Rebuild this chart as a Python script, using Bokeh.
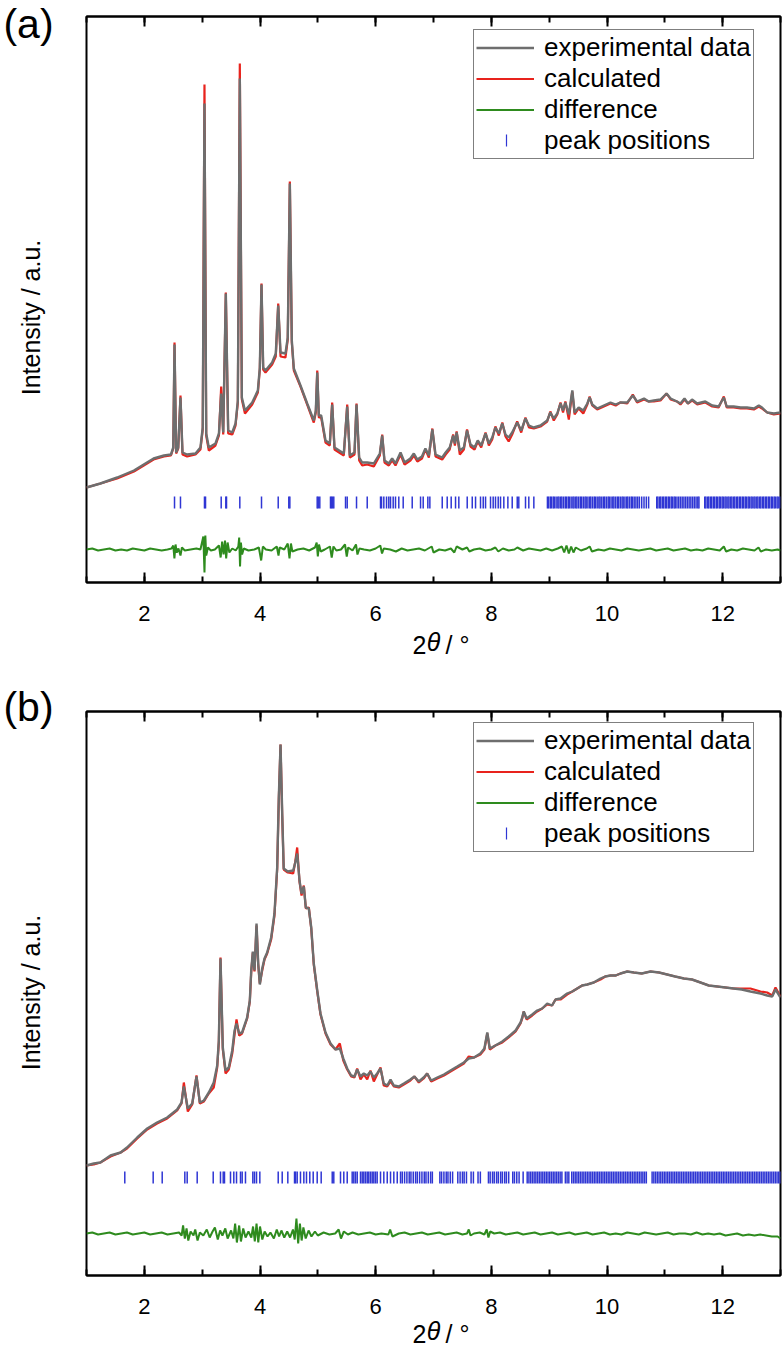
import math
from bokeh.plotting import figure
from bokeh.models import (LinearAxis, SingleIntervalTicker, FixedTicker, Legend,
                          LegendItem, Label, Range1d, CustomJSTickFormatter)
from bokeh.layouts import column
from bokeh.embed import file_html
from bokeh.resources import INLINE

FONT = "Liberation Sans"
GRAY = "#6e6e6e"
RED = "#e8231d"
GREEN = "#2e8b1e"
BLUE = "#2f36d4"

# ---------------- panel (a) ----------------
a_theta = [1.00, 1.24, 1.53, 1.82, 1.99, 2.16, 2.34, 2.46, 2.50, 2.522,
           2.55, 2.586, 2.625, 2.66, 2.74, 2.885, 2.97, 3.01, 3.04, 3.07,
           3.115, 3.23, 3.29, 3.329, 3.364, 3.409, 3.45, 3.52, 3.577, 3.617,
           3.651, 3.686, 3.74, 3.865, 3.963, 3.997, 4.026, 4.055, 4.095, 4.21,
           4.273, 4.315, 4.355, 4.44, 4.48, 4.516, 4.55, 4.585, 4.70, 4.816,
           4.93, 4.965, 4.99, 5.017, 5.058, 5.133, 5.207, 5.248, 5.288, 5.449,
           5.508, 5.553, 5.634, 5.669, 5.715, 5.767, 5.854, 5.968, 6.072, 6.113,
           6.153, 6.228, 6.285, 6.343, 6.43, 6.50, 6.60, 6.66, 6.72, 6.80,
           6.86, 6.92, 6.98, 7.035, 7.15, 7.21, 7.28, 7.34, 7.37, 7.40,
           7.455, 7.525, 7.58, 7.64, 7.71, 7.765, 7.825, 7.90, 7.957, 8.015,
           8.07, 8.13, 8.19, 8.245, 8.30, 8.36, 8.447, 8.517, 8.59, 8.65,
           8.735, 8.85, 8.966, 9.02, 9.08, 9.14, 9.196, 9.24, 9.28, 9.34,
           9.40, 9.44, 9.51, 9.59, 9.66, 9.70, 9.745, 9.83, 9.945, 10.06,
           10.15, 10.23, 10.35, 10.446, 10.52, 10.64, 10.72, 10.81, 10.925, 11.03,
           11.10, 11.21, 11.27, 11.34, 11.40, 11.47, 11.56, 11.70, 11.82, 11.93,
           12.02, 12.07, 12.19, 12.31, 12.42, 12.54, 12.625, 12.68, 12.77, 12.885, 13.00]
a_exp = [95, 99, 105, 112, 118, 124, 127, 128, 135, 238,
         130, 135, 185, 130, 128, 129, 135, 155, 479, 149,
         135, 139, 149, 189, 150, 289, 152, 150, 159, 182,
         504, 185, 172, 180, 192, 215, 298, 215, 212, 220,
         229, 277, 230, 229, 245, 399, 242, 214, 197, 179,
         162, 172, 210, 167, 167, 142, 139, 178, 135, 129,
         176, 127, 130, 178, 125, 120, 120, 119, 129, 147,
         122, 119, 124, 119, 130, 120, 124, 129, 123, 126,
         134, 127, 153, 128, 125, 130, 135, 147, 139, 150,
         132, 135, 152, 138, 135, 142, 137, 149, 139, 145,
         155, 149, 159, 148, 145, 150, 160, 152, 164, 157,
         155, 157, 162, 170, 164, 169, 179, 172, 180, 168,
         192, 170, 175, 172, 179, 185, 178, 174, 177, 180,
         178, 180, 180, 187, 181, 184, 181, 182, 183, 189,
         184, 181, 179, 184, 179, 183, 179, 181, 177, 176,
         185, 176, 176, 175, 175, 174, 177, 175, 170, 169, 170]
a_calc = [95, 99, 104, 111, 117, 123, 126, 127, 134, 240,
          129, 134, 187, 128, 126, 128, 133, 153, 498, 147,
          132, 137, 147, 196, 148, 290, 149, 148, 157, 180,
          519, 183, 169, 178, 190, 213, 299, 213, 210, 218,
          226, 279, 226, 225, 243, 401, 240, 212, 196, 178,
          160, 170, 212, 165, 165, 140, 137, 180, 133, 127,
          178, 125, 128, 179, 122, 117, 118, 116, 127, 148,
          120, 117, 122, 117, 128, 118, 122, 127, 121, 124,
          133, 125, 154, 126, 123, 128, 133, 148, 137, 151,
          128, 133, 153, 136, 133, 141, 135, 150, 137, 143,
          156, 147, 160, 146, 141, 148, 161, 150, 165, 155,
          154, 156, 161, 171, 162, 168, 180, 170, 181, 163,
          191, 168, 174, 169, 178, 186, 177, 173, 176, 179,
          177, 180, 179, 188, 180, 183, 181, 181, 182, 189,
          183, 181, 178, 183, 179, 182, 178, 180, 176, 175,
          186, 175, 175, 174, 174, 173, 176, 174, 170, 168, 169]
a_dtheta = [1.00, 1.10, 1.20, 1.30, 1.40, 1.50, 1.60, 1.70, 1.80, 1.90,
            2.00, 2.10, 2.20, 2.30, 2.40, 2.47, 2.50, 2.52, 2.54, 2.56,
            2.59, 2.625, 2.65, 2.70, 2.80, 2.90, 2.97, 3.02, 3.04, 3.055,
            3.07, 3.10, 3.15, 3.22, 3.29, 3.32, 3.345, 3.37, 3.395, 3.415,
            3.44, 3.47, 3.52, 3.58, 3.625, 3.64, 3.655, 3.67, 3.69, 3.72,
            3.80, 3.90, 3.98, 4.02, 4.05, 4.10, 4.20, 4.29, 4.32, 4.34,
            4.42, 4.48, 4.51, 4.535, 4.56, 4.65, 4.75, 4.85, 4.95, 4.98,
            5.00, 5.02, 5.05, 5.12, 5.21, 5.24, 5.27, 5.32, 5.40, 5.47,
            5.50, 5.525, 5.60, 5.66, 5.685, 5.72, 5.80, 5.90, 6.00, 6.08,
            6.11, 6.14, 6.25, 6.35, 6.45, 6.55, 6.65, 6.75, 6.85, 6.97,
            7.00, 7.10, 7.20, 7.30, 7.36, 7.40, 7.50, 7.58, 7.62, 7.70,
            7.80, 7.90, 8.00, 8.07, 8.12, 8.20, 8.30, 8.40, 8.45, 8.55,
            8.65, 8.75, 8.85, 8.95, 9.05, 9.15, 9.22, 9.26, 9.30, 9.34,
            9.38, 9.42, 9.46, 9.55, 9.65, 9.70, 9.74, 9.85, 9.95, 10.05,
            10.15, 10.25, 10.35, 10.45, 10.55, 10.65, 10.75, 10.85, 10.95, 11.05,
            11.15, 11.25, 11.35, 11.45, 11.55, 11.65, 11.75, 11.85, 11.95, 12.02,
            12.06, 12.15, 12.25, 12.35, 12.45, 12.55, 12.62, 12.66, 12.75, 12.85,
            12.95, 13.00]
a_diff = [33, 34, 32, 33, 34, 32, 33, 32, 34, 33,
          32, 34, 33, 32, 33, 34, 37, 24, 38, 30,
          34, 27, 35, 32, 33, 34, 33, 46, 10, 47,
          27, 35, 32, 33, 37, 25, 41, 28, 42, 24,
          40, 30, 34, 32, 36, 45, 16, 40, 28, 34,
          32, 33, 35, 22, 36, 33, 32, 36, 27, 35,
          33, 39, 24, 39, 31, 33, 34, 32, 35, 40,
          26, 38, 31, 33, 36, 25, 36, 32, 33, 38,
          26, 35, 32, 38, 28, 34, 33, 32, 34, 37,
          29, 34, 33, 31, 34, 32, 33, 34, 32, 36,
          30, 33, 32, 34, 30, 36, 33, 35, 31, 33,
          34, 32, 33, 35, 31, 34, 32, 33, 35, 32,
          34, 33, 32, 34, 32, 34, 36, 30, 37, 29,
          36, 30, 35, 32, 34, 36, 31, 33, 32, 34,
          33, 32, 34, 33, 32, 33, 34, 32, 33, 34,
          32, 33, 34, 32, 33, 32, 34, 33, 32, 36,
          31, 33, 32, 34, 33, 32, 35, 31, 33, 32,
          33, 32]
a_peaks = [2.522, 2.625, 3.040, 3.058, 3.329, 3.409, 3.421, 3.651, 4.026, 4.315,
           4.498, 4.516, 4.989, 5.007, 5.034, 5.219, 5.236, 5.254, 5.276, 5.479,
           5.508, 5.669, 5.854, 6.084, 6.101, 6.141, 6.188, 6.227, 6.257, 6.303,
           6.343, 6.400, 6.476, 6.632, 6.776, 6.822, 6.902, 6.937, 7.151, 7.237,
           7.306, 7.381, 7.438, 7.583, 7.670, 7.727, 7.813, 7.860, 7.900, 7.986,
           8.032, 8.072, 8.119, 8.159, 8.216, 8.286, 8.361, 8.448, 8.475, 8.591,
           8.648, 8.735,
           8.97, 8.99, 9.02, 9.04, 9.07, 9.09, 9.12, 9.15, 9.17, 9.20,
           9.22, 9.25, 9.28, 9.30, 9.33, 9.35, 9.38, 9.41, 9.43, 9.46,
           9.48, 9.51, 9.54, 9.56, 9.59, 9.62, 9.64, 9.67, 9.70, 9.72,
           9.75, 9.78, 9.80, 9.83, 9.86, 9.88, 9.91, 9.94, 9.96, 9.99,
           10.02, 10.04, 10.07, 10.10, 10.12, 10.15, 10.18, 10.20, 10.23, 10.26,
           10.28, 10.31, 10.34, 10.36, 10.39, 10.42, 10.44, 10.47, 10.50, 10.53,
           10.56, 10.60, 10.64, 10.68, 10.72,
           10.86, 10.88, 10.91, 10.93, 10.96, 10.98, 11.01, 11.03, 11.06, 11.08,
           11.11, 11.13, 11.16, 11.18, 11.21, 11.24, 11.27, 11.30, 11.33, 11.36,
           11.39, 11.42, 11.45, 11.48, 11.51, 11.54, 11.57, 11.59,
           11.69, 11.71, 11.74, 11.76, 11.79, 11.81, 11.84, 11.86, 11.89, 11.91,
           11.94, 11.96, 11.99, 12.01, 12.04, 12.06, 12.09, 12.11, 12.14, 12.16,
           12.19, 12.21, 12.24, 12.26, 12.29, 12.31, 12.34, 12.36, 12.39, 12.41,
           12.44, 12.46, 12.49, 12.51, 12.54, 12.56, 12.59, 12.61, 12.64, 12.66,
           12.69, 12.71, 12.74, 12.76, 12.79, 12.81, 12.84, 12.86, 12.89, 12.91,
           12.94, 12.96, 12.99]

# ---------------- panel (b) ----------------
b_theta = [1.00, 1.127, 1.24, 1.415, 1.59, 1.70, 1.877, 2.05, 2.22, 2.395,
           2.568, 2.643, 2.683, 2.752, 2.828, 2.902, 2.96, 3.03, 3.115, 3.20,
           3.26, 3.288, 3.317, 3.357, 3.404, 3.46, 3.52, 3.56, 3.594, 3.64,
           3.69, 3.778, 3.824, 3.848, 3.876, 3.905, 3.94, 3.969, 3.997, 4.038,
           4.078, 4.124, 4.193, 4.25, 4.297, 4.325, 4.355, 4.384, 4.41, 4.48,
           4.574, 4.61, 4.643, 4.683, 4.718, 4.758, 4.792, 4.844, 4.886, 4.93,
           4.99, 5.046, 5.133, 5.22, 5.305, 5.38, 5.44, 5.508, 5.577, 5.634,
           5.68, 5.738, 5.795, 5.854, 5.91, 5.968, 6.026, 6.084, 6.14, 6.20,
           6.257, 6.314, 6.40, 6.487, 6.60, 6.67, 6.746, 6.83, 6.89, 6.96,
           7.065, 7.18, 7.294, 7.41, 7.525, 7.61, 7.70, 7.81, 7.88, 7.93,
           7.974, 8.07, 8.19, 8.30, 8.42, 8.505, 8.534, 8.56, 8.61, 8.707,
           8.793, 8.88, 8.966, 9.05, 9.11, 9.196, 9.31, 9.40, 9.485, 9.57,
           9.658, 9.77, 9.888, 9.97, 10.06, 10.15, 10.234, 10.35, 10.464, 10.60,
           10.753, 10.90, 11.04, 11.18, 11.33, 11.47, 11.617, 11.76, 11.906, 12.05,
           12.19, 12.33, 12.48, 12.655, 12.77, 12.857, 12.914, 13.00]
b_exp = [110, 112, 113, 120, 123, 128, 138, 147, 153, 158,
         166, 173, 189, 167, 172, 199, 173, 175, 183, 193,
         210, 235, 317, 228, 205, 208, 225, 245, 252, 242,
         243, 258, 275, 305, 324, 305, 352, 312, 291, 307,
         317, 323, 338, 362, 408, 478, 531, 462, 407, 404,
         405, 413, 422, 395, 382, 389, 368, 367, 348, 312,
         285, 262, 243, 232, 226, 227, 217, 207, 200, 199,
         206, 199, 202, 200, 204, 198, 202, 207, 192, 190,
         196, 190, 189, 192, 196, 199, 194, 198, 202, 195,
         198, 201, 205, 209, 213, 217, 218, 222, 227, 243,
         227, 230, 234, 239, 245, 253, 258, 264, 257, 261,
         265, 267, 272, 270, 276, 277, 282, 284, 287, 290,
         291, 293, 297, 299, 300, 300, 302, 304, 303, 302,
         304, 303, 301, 299, 297, 296, 293, 290, 289, 288,
         287, 286, 284, 282, 280, 279, 286, 278]
b_calc = [110, 111, 113, 119, 123, 127, 137, 146, 152, 157,
          165, 172, 193, 164, 171, 200, 172, 174, 182, 188,
          208, 233, 318, 226, 202, 206, 222, 241, 256, 240,
          242, 257, 274, 303, 323, 304, 350, 311, 292, 305,
          316, 322, 336, 360, 406, 476, 531, 460, 406, 403,
          402, 414, 428, 394, 380, 390, 367, 368, 347, 311,
          284, 261, 242, 231, 226, 232, 215, 206, 199, 198,
          207, 196, 201, 196, 205, 194, 201, 208, 190, 189,
          194, 189, 188, 191, 195, 199, 193, 197, 202, 194,
          197, 200, 204, 208, 212, 219, 218, 221, 226, 242,
          226, 230, 233, 238, 244, 252, 257, 264, 256, 260,
          264, 267, 271, 270, 276, 276, 281, 284, 287, 290,
          291, 293, 296, 299, 300, 300, 302, 304, 303, 302,
          304, 303, 301, 299, 297, 296, 293, 290, 289, 288,
          287, 287, 287, 284, 283, 280, 288, 279]
b_dtheta = [1.00, 1.10, 1.20, 1.30, 1.40, 1.50, 1.60, 1.70, 1.80, 1.90,
            2.00, 2.10, 2.20, 2.30, 2.40, 2.50, 2.60, 2.645, 2.67, 2.70,
            2.73, 2.76, 2.80, 2.85, 2.88, 2.92, 2.96, 3.02, 3.08, 3.13,
            3.18, 3.22, 3.27, 3.31, 3.35, 3.40, 3.44, 3.50, 3.54, 3.57,
            3.60, 3.64, 3.67, 3.71, 3.75, 3.80, 3.85, 3.88, 3.91, 3.94,
            3.97, 4.00, 4.04, 4.08, 4.13, 4.18, 4.24, 4.29, 4.33, 4.37,
            4.42, 4.47, 4.52, 4.57, 4.60, 4.63, 4.66, 4.69, 4.72, 4.75,
            4.79, 4.84, 4.89, 4.95, 5.00, 5.10, 5.20, 5.30, 5.36, 5.40,
            5.45, 5.52, 5.60, 5.70, 5.80, 5.90, 6.00, 6.10, 6.22, 6.25,
            6.29, 6.40, 6.50, 6.60, 6.70, 6.80, 6.90, 7.00, 7.10, 7.20,
            7.30, 7.40, 7.50, 7.58, 7.61, 7.64, 7.70, 7.80, 7.88, 7.92,
            7.95, 7.98, 8.05, 8.15, 8.25, 8.35, 8.45, 8.55, 8.65, 8.75,
            8.85, 8.95, 9.05, 9.15, 9.25, 9.35, 9.45, 9.55, 9.65, 9.75,
            9.85, 9.95, 10.05, 10.15, 10.25, 10.35, 10.45, 10.55, 10.65, 10.75,
            10.85, 10.95, 11.05, 11.15, 11.25, 11.35, 11.45, 11.55, 11.65, 11.75,
            11.85, 11.95, 12.05, 12.15, 12.25, 12.35, 12.45, 12.55, 12.65, 12.75,
            12.85, 12.95, 13.00]
b_diff = [42, 43, 41, 42, 43, 41, 42, 43, 41, 42,
          43, 41, 42, 43, 41, 42, 43, 40, 50, 37,
          47, 35, 44, 40, 46, 35, 43, 40, 46, 38,
          44, 48, 36, 45, 40, 47, 37, 45, 37, 52,
          33, 50, 34, 47, 38, 44, 38, 49, 34, 52,
          33, 49, 36, 44, 39, 43, 37, 46, 39, 45,
          38, 44, 38, 46, 36, 57, 32, 52, 35, 48,
          37, 45, 39, 44, 40, 43, 41, 42, 46, 37,
          44, 41, 43, 41, 42, 43, 41, 42, 41, 46,
          39, 42, 43, 41, 42, 43, 41, 42, 43, 41,
          42, 43, 41, 42, 46, 40, 42, 43, 41, 46,
          38, 44, 42, 43, 41, 42, 43, 41, 42, 43,
          41, 42, 43, 41, 42, 43, 41, 42, 43, 41,
          42, 43, 41, 42, 41, 43, 42, 41, 43, 42,
          41, 42, 43, 41, 42, 42, 41, 43, 41, 42,
          41, 42, 40, 41, 42, 40, 41, 40, 41, 40,
          39, 39, 37]
b_peaks = [1.662, 2.153, 2.309, 2.700, 2.741, 2.914, 3.191, 3.317, 3.364, 3.386,
           3.490, 3.547, 3.594, 3.663, 3.692, 3.749, 3.876, 3.905, 3.940, 3.997,
           4.315, 4.384, 4.481, 4.597, 4.614, 4.643, 4.700, 4.758, 4.804, 4.861,
           4.920, 4.989, 5.058, 5.249, 5.276, 5.392, 5.449, 5.508, 5.594, 5.622,
           5.651, 5.681, 5.738, 5.767, 5.795, 5.824, 5.854, 5.881, 5.911, 5.940,
           5.968, 5.997, 6.026, 6.084, 6.141, 6.200, 6.257, 6.314, 6.373, 6.430,
           6.46, 6.50, 6.54, 6.58, 6.61, 6.65, 6.69, 6.72, 6.76, 6.80,
           6.84, 6.87, 6.91, 6.95, 6.98, 7.11, 7.14, 7.18, 7.22, 7.25,
           7.29, 7.33, 7.42, 7.46, 7.50, 7.53, 7.57, 7.65, 7.69, 7.77,
           7.81, 7.95, 7.98, 8.02, 8.05, 8.09, 8.12, 8.16, 8.19, 8.23,
           8.26, 8.30, 8.37, 8.40, 8.44, 8.48, 8.55, 8.62, 8.65, 8.68,
           8.71, 8.74, 8.77, 8.80, 8.83, 8.86, 8.89, 8.92, 8.95, 8.98,
           9.01, 9.04, 9.07, 9.10, 9.13, 9.16, 9.19, 9.22, 9.28, 9.31,
           9.34, 9.39, 9.42, 9.45, 9.48, 9.51, 9.54, 9.57, 9.60, 9.63,
           9.66, 9.69, 9.72, 9.75, 9.78, 9.81, 9.84, 9.87, 9.90, 9.93,
           9.96, 9.99, 10.02, 10.05, 10.08, 10.11, 10.14, 10.17, 10.20, 10.23,
           10.26, 10.29, 10.32, 10.35, 10.38, 10.41, 10.44, 10.47, 10.50, 10.53,
           10.56, 10.59, 10.62, 10.65, 10.68, 10.78, 10.81, 10.84, 10.87, 10.90,
           10.93, 10.96, 10.99, 11.02, 11.05, 11.08, 11.11, 11.14, 11.17, 11.20,
           11.23, 11.26, 11.29, 11.32, 11.35, 11.38, 11.41, 11.44, 11.47, 11.50,
           11.53, 11.56, 11.59, 11.62, 11.65, 11.68, 11.71, 11.74, 11.77, 11.80,
           11.83, 11.86, 11.89, 11.92, 11.95, 11.98, 12.01, 12.04, 12.07, 12.10,
           12.13, 12.16, 12.19, 12.22, 12.25, 12.28, 12.31, 12.34, 12.37, 12.40,
           12.43, 12.46, 12.49, 12.52, 12.55, 12.58, 12.61, 12.64, 12.67, 12.70,
           12.73, 12.76, 12.79, 12.82, 12.85, 12.88, 12.91, 12.94, 12.97, 13.00]

# legend layout (frame pixels from the frame's bottom-left corner)
LEG_LEFT, LEG_BOTTOM = 387, 423
LEG_TICK_X, LEG_TICK_Y0, LEG_TICK_Y1 = 420, 436, 448
FRAME_W = 694
X0, X1 = 1, 13
# x-axis title "2θ / °": "2" and "/ °" sit beside the italic θ (axis title,
# centred on the frame); their anchor positions in frame pixels
XT_TWO_PX, XT_SLASH_PX = 333, 371


def px_to_x(px):
    return X0 + px * (X1 - X0) / FRAME_W


def make_panel(tag, theta, exp, calc, dtheta, diff, peaks, tick_mid, ymax,
               frame_h, top, bottom, tag_y, ylab_y, xt_standoff):
    p = figure(frame_width=FRAME_W, frame_height=frame_h,
               x_range=Range1d(X0, X1), y_range=Range1d(0, ymax),
               output_backend="svg", toolbar_location=None,
               y_axis_location=None,
               min_border_left=86, min_border_right=4,
               min_border_top=top, min_border_bottom=bottom)
    p.background_fill_color = "white"
    p.border_fill_color = "white"
    p.outline_line_color = "black"
    p.outline_line_width = 2
    p.grid.visible = False

    ax = p.xaxis[0]
    ax.ticker = SingleIntervalTicker(interval=2, num_minor_ticks=2)
    ax.major_tick_in = 10
    ax.major_tick_out = 0
    ax.minor_tick_in = 6
    ax.minor_tick_out = 0
    ax.axis_line_width = 2
    ax.major_tick_line_width = 2
    ax.minor_tick_line_width = 2
    ax.major_label_text_font = FONT
    ax.major_label_text_font_size = "22px"
    ax.major_label_text_color = "black"
    ax.major_label_standoff = 23

    # second (bare) axis below carrying the title "2θ / °"
    ttl = LinearAxis(ticker=FixedTicker(ticks=[px_to_x(XT_TWO_PX), px_to_x(XT_SLASH_PX)]),
                     formatter=CustomJSTickFormatter(code="return index == 0 ? '2' : '/ °'"),
                     axis_line_color=None, major_tick_line_color=None,
                     minor_tick_line_color=None,
                     major_label_text_font=FONT, major_label_text_font_size="25px",
                     major_label_text_color="black", major_label_standoff=xt_standoff,
                     axis_label="θ", axis_label_text_font=FONT,
                     axis_label_text_font_size="25px",
                     axis_label_text_font_style="italic",
                     axis_label_text_color="black", axis_label_standoff=-34)
    p.add_layout(ttl, "below")

    top_ax = LinearAxis(ticker=SingleIntervalTicker(interval=2, num_minor_ticks=2),
                        formatter=CustomJSTickFormatter(code="return ''"),
                        major_label_text_font_size="1px", major_label_standoff=0,
                        major_tick_in=10, major_tick_out=0,
                        minor_tick_in=6, minor_tick_out=0,
                        axis_line_width=2, major_tick_line_width=2,
                        minor_tick_line_width=2)
    p.add_layout(top_ax, "above")

    r_calc = p.line(theta, calc, line_color=RED, line_width=2.2)
    r_exp = p.line(theta, exp, line_color=GRAY, line_width=2.4)
    r_diff = p.line(dtheta, diff, line_color=GREEN, line_width=2)
    p.scatter(peaks, [tick_mid] * len(peaks), marker="dash",
              angle=math.pi / 2, size=12, line_color=BLUE, line_width=1.5)

    # legend symbol for "peak positions": a short vertical tick drawn in the
    # legend's glyph slot (legend background is transparent; area is empty)
    r_pk_leg = p.line([X0, X0 + 0.1], [-50, -50], line_alpha=0)
    lx = px_to_x(LEG_TICK_X)
    p.segment(x0=[lx], y0=[LEG_TICK_Y0], x1=[lx], y1=[LEG_TICK_Y1],
              line_color=BLUE, line_width=1.2)

    legend = Legend(items=[LegendItem(label="experimental data", renderers=[r_exp]),
                           LegendItem(label="calculated", renderers=[r_calc]),
                           LegendItem(label="difference", renderers=[r_diff]),
                           LegendItem(label="peak positions", renderers=[r_pk_leg])],
                    location=(LEG_LEFT, LEG_BOTTOM), margin=0, padding=2, spacing=0,
                    glyph_width=58, glyph_height=31, label_standoff=10,
                    label_text_font=FONT, label_text_font_size="26px",
                    label_text_color="black", border_line_color="black",
                    border_line_width=1, background_fill_alpha=0)
    p.add_layout(legend)

    p.add_layout(Label(x=28, y=tag_y, x_units="canvas", y_units="canvas",
                       text=tag, text_font=FONT, text_font_size="41px",
                       text_align="center", text_baseline="middle",
                       text_color="black"), "left")
    p.add_layout(Label(x=30, y=ylab_y, x_units="canvas", y_units="canvas",
                       text="Intensity / a.u.", angle=math.pi / 2,
                       text_font=FONT, text_font_size="25px",
                       text_align="center", text_baseline="middle",
                       text_color="black"), "left")
    return p


pa = make_panel("(a)", a_theta, a_exp, a_calc, a_dtheta, a_diff, a_peaks, 80, 566,
                566, 16, 97, 23, 317, 1)
pb = make_panel("(b)", b_theta, b_exp, b_calc, b_dtheta, b_diff, b_peaks, 98, 564,
                564, 32, 73, 27, 313, -3)

layout = column(pa, pb, spacing=0)
open("out.html", "w").write(file_html(layout, INLINE))
